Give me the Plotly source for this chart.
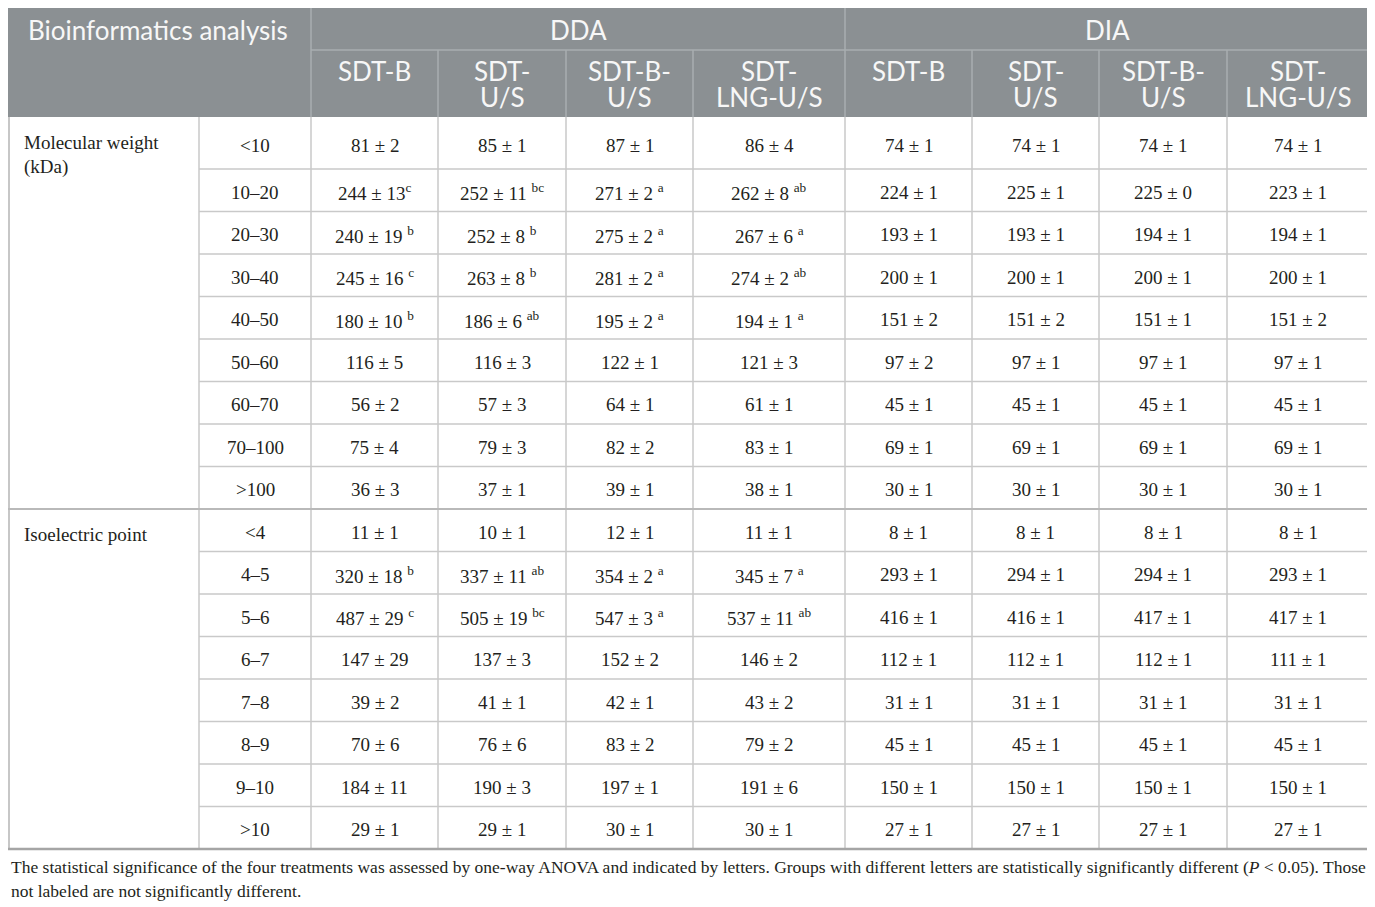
import plotly.graph_objects as go

# ---------------- data ----------------
title_cell = "Bioinformatics analysis"
methods = ["DDA", "DIA"]
treatments = ["SDT-B", "SDT-<br>U/S", "SDT-B-<br>U/S", "SDT-<br>LNG-U/S"]

groups = ["Molecular weight<br>(kDa)", "Isoelectric point"]
mw_bins = ["<10", "10–20", "20–30", "30–40", "40–50", "50–60", "60–70", "70–100", ">100"]
pi_bins = ["<4", "4–5", "5–6", "6–7", "7–8", "8–9", "9–10", ">10"]

# "^" marks a superscript significance letter
dda_sdtb_mw = ["81 ± 2", "244 ± 13^c", "240 ± 19 ^b", "245 ± 16 ^c", "180 ± 10 ^b", "116 ± 5", "56 ± 2", "75 ± 4", "36 ± 3"]
dda_sdtus_mw = ["85 ± 1", "252 ± 11 ^bc", "252 ± 8 ^b", "263 ± 8 ^b", "186 ± 6 ^ab", "116 ± 3", "57 ± 3", "79 ± 3", "37 ± 1"]
dda_sdtbus_mw = ["87 ± 1", "271 ± 2 ^a", "275 ± 2 ^a", "281 ± 2 ^a", "195 ± 2 ^a", "122 ± 1", "64 ± 1", "82 ± 2", "39 ± 1"]
dda_sdtlng_mw = ["86 ± 4", "262 ± 8 ^ab", "267 ± 6 ^a", "274 ± 2 ^ab", "194 ± 1 ^a", "121 ± 3", "61 ± 1", "83 ± 1", "38 ± 1"]
dia_sdtb_mw = ["74 ± 1", "224 ± 1", "193 ± 1", "200 ± 1", "151 ± 2", "97 ± 2", "45 ± 1", "69 ± 1", "30 ± 1"]
dia_sdtus_mw = ["74 ± 1", "225 ± 1", "193 ± 1", "200 ± 1", "151 ± 2", "97 ± 1", "45 ± 1", "69 ± 1", "30 ± 1"]
dia_sdtbus_mw = ["74 ± 1", "225 ± 0", "194 ± 1", "200 ± 1", "151 ± 1", "97 ± 1", "45 ± 1", "69 ± 1", "30 ± 1"]
dia_sdtlng_mw = ["74 ± 1", "223 ± 1", "194 ± 1", "200 ± 1", "151 ± 2", "97 ± 1", "45 ± 1", "69 ± 1", "30 ± 1"]

dda_sdtb_pi = ["11 ± 1", "320 ± 18 ^b", "487 ± 29 ^c", "147 ± 29", "39 ± 2", "70 ± 6", "184 ± 11", "29 ± 1"]
dda_sdtus_pi = ["10 ± 1", "337 ± 11 ^ab", "505 ± 19 ^bc", "137 ± 3", "41 ± 1", "76 ± 6", "190 ± 3", "29 ± 1"]
dda_sdtbus_pi = ["12 ± 1", "354 ± 2 ^a", "547 ± 3 ^a", "152 ± 2", "42 ± 1", "83 ± 2", "197 ± 1", "30 ± 1"]
dda_sdtlng_pi = ["11 ± 1", "345 ± 7 ^a", "537 ± 11 ^ab", "146 ± 2", "43 ± 2", "79 ± 2", "191 ± 6", "30 ± 1"]
dia_sdtb_pi = ["8 ± 1", "293 ± 1", "416 ± 1", "112 ± 1", "31 ± 1", "45 ± 1", "150 ± 1", "27 ± 1"]
dia_sdtus_pi = ["8 ± 1", "294 ± 1", "416 ± 1", "112 ± 1", "31 ± 1", "45 ± 1", "150 ± 1", "27 ± 1"]
dia_sdtbus_pi = ["8 ± 1", "294 ± 1", "417 ± 1", "112 ± 1", "31 ± 1", "45 ± 1", "150 ± 1", "27 ± 1"]
dia_sdtlng_pi = ["8 ± 1", "293 ± 1", "417 ± 1", "111 ± 1", "31 ± 1", "45 ± 1", "150 ± 1", "27 ± 1"]

footnote_lines = [
    "The statistical significance of the four treatments was assessed by one-way ANOVA and indicated by letters. "
    "Groups with different letters are statistically significantly different (<i>P</i> < 0.05). Those",
    "not labeled are not significantly different.",
]

mw_cols = [dda_sdtb_mw, dda_sdtus_mw, dda_sdtbus_mw, dda_sdtlng_mw, dia_sdtb_mw, dia_sdtus_mw, dia_sdtbus_mw, dia_sdtlng_mw]
pi_cols = [dda_sdtb_pi, dda_sdtus_pi, dda_sdtbus_pi, dda_sdtlng_pi, dia_sdtb_pi, dia_sdtus_pi, dia_sdtbus_pi, dia_sdtlng_pi]

# ---------------- layout ----------------
W, H = 1375, 907
OFF = 8  # page body margin: axis units then equal screen pixels
XB = [4, 199, 311, 438, 566, 693, 845, 972, 1099, 1227, 1369]
HDR_TOP, HDR_MID, HDR_BOT = 4, 50, 117
FIRST_ROW_H = 52
ROW_H = 42.5

HEAD_BG = "#8b9093"
HEAD_LINE = "#a9aeb0"
GRID = "#c9c9c9"
TXT = "#231f20"
SANS = "Lato, 'Open Sans', sans-serif"
SERIF = "'Liberation Serif', 'Times New Roman', serif"


def esc(s):
    s = s.replace("<br>", "\n").replace("<i>", "\x01").replace("</i>", "\x02")
    s = s.replace("<", "&lt;").replace(">", "&gt;")
    return s.replace("\n", "<br>").replace("\x01", "<i>").replace("\x02", "</i>")


def fmt(s):
    if "^" in s:
        base, sup = s.split("^")
        return esc(base) + "<sup>" + sup + "</sup>"
    return esc(s)


mw_edges = [HDR_BOT, HDR_BOT + FIRST_ROW_H]
for _ in range(len(mw_bins) - 1):
    mw_edges.append(mw_edges[-1] + ROW_H)
pi_edges = [mw_edges[-1]]
for _ in range(len(pi_bins)):
    pi_edges.append(pi_edges[-1] + ROW_H)

fig = go.Figure()
fig.add_trace(go.Scatter(x=[OFF, W], y=[OFF, H], mode="markers", marker=dict(opacity=0), hoverinfo="skip", showlegend=False))

shapes = []
ann = []

LEFT = max(XB[0], OFF + 1)

shapes.append(dict(type="rect", x0=XB[0], x1=XB[-1], y0=HDR_TOP, y1=HDR_BOT, fillcolor=HEAD_BG, line=dict(width=0), layer="below"))
shapes.append(dict(type="line", x0=XB[0], x1=XB[-1], y0=HDR_TOP - 1, y1=HDR_TOP - 1, line=dict(color="#d6d6d6", width=1.5)))
for xi in (XB[2], XB[6]):
    shapes.append(dict(type="line", x0=xi, x1=xi, y0=HDR_TOP, y1=HDR_BOT, line=dict(color=HEAD_LINE, width=1.5)))
for xi in XB[3:6] + XB[7:10]:
    shapes.append(dict(type="line", x0=xi, x1=xi, y0=HDR_MID, y1=HDR_BOT, line=dict(color=HEAD_LINE, width=1.5)))
shapes.append(dict(type="line", x0=XB[2], x1=XB[-1], y0=HDR_MID, y1=HDR_MID, line=dict(color=HEAD_LINE, width=1.5)))

hfont = dict(family=SANS, size=26, color="#f7f7f7")
ann.append(dict(x=(XB[0] + XB[2]) / 2, y=30, text=title_cell, font=hfont, xanchor="center", yanchor="middle"))
for m, method in enumerate(methods):
    ann.append(dict(x=(XB[2 + 4 * m] + XB[6 + 4 * m]) / 2, y=30, text=method, font=hfont, xanchor="center", yanchor="middle"))
    for t, tr in enumerate(treatments):
        c = 2 + 4 * m + t
        for li, line in enumerate(tr.split("<br>")):
            ann.append(dict(x=(XB[c] + XB[c + 1]) / 2, y=HDR_MID + 21 + 26 * li, text=line, font=hfont, xanchor="center", yanchor="middle"))

dfont = dict(family=SERIF, size=19, color=TXT)
for g, (label, bins, cols, edges) in enumerate([(groups[0], mw_bins, mw_cols, mw_edges), (groups[1], pi_bins, pi_cols, pi_edges)]):
    for li, line in enumerate(label.split("<br>")):
        ann.append(dict(x=XB[0] + 18, y=edges[0] + 25 + 25 * li, text=esc(line), font=dfont, xanchor="left", yanchor="middle", align="left"))
    for r, b in enumerate(bins):
        yc = (edges[r] + edges[r + 1]) / 2 + 2
        ann.append(dict(x=(XB[1] + XB[2]) / 2, y=yc, text=esc(b), font=dfont, xanchor="center", yanchor="middle"))
        for ci, col in enumerate(cols):
            c = 2 + ci
            ann.append(dict(x=(XB[c] + XB[c + 1]) / 2, y=yc, text=fmt(col[r]), font=dfont, xanchor="center", yanchor="middle"))
        if r < len(bins) - 1:
            shapes.append(dict(type="line", x0=XB[1], x1=XB[-1], y0=edges[r + 1], y1=edges[r + 1], line=dict(color=GRID, width=1.5)))
    for xi in XB[1:-1]:
        shapes.append(dict(type="line", x0=xi, x1=xi, y0=edges[0], y1=edges[-1], line=dict(color=GRID, width=1.5)))
    for xi in (LEFT, XB[-1]):
        shapes.append(dict(type="line", x0=xi, x1=xi, y0=edges[0], y1=edges[-1], line=dict(color="#b5b5b5", width=1.5)))

shapes.append(dict(type="line", x0=XB[0], x1=XB[-1], y0=pi_edges[0], y1=pi_edges[0], line=dict(color="#b9b9b9", width=2)))
shapes.append(dict(type="line", x0=XB[0], x1=XB[-1], y0=pi_edges[-1], y1=pi_edges[-1], line=dict(color="#a5a5a5", width=2.5)))

for li, line in enumerate(footnote_lines):
    ann.append(dict(x=OFF + 0.5, y=pi_edges[-1] + 18 + 24 * li, text=esc(line), font=dict(family=SERIF, size=17.5, color=TXT),
                    xanchor="left", yanchor="middle", align="left"))

for a in ann:
    a.update(xref="x", yref="y", showarrow=False)

fig.update_layout(
    width=W, height=H, margin=dict(l=0, r=0, t=0, b=0),
    paper_bgcolor="white", plot_bgcolor="white",
    xaxis=dict(range=[OFF, W + OFF], visible=False, fixedrange=True),
    yaxis=dict(range=[H + OFF, OFF], visible=False, fixedrange=True),
    shapes=shapes, annotations=ann, showlegend=False,
)
fig.write_html("out.html")
